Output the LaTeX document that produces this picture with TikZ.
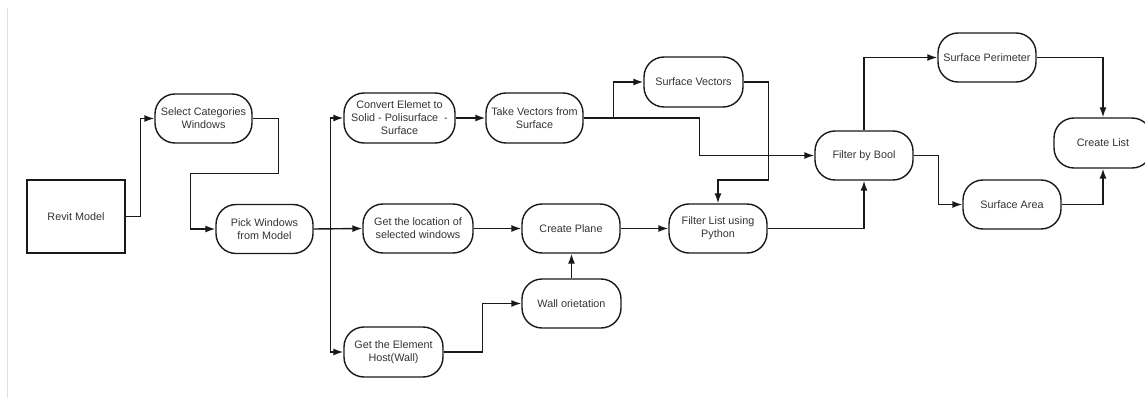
\documentclass[tikz,border=0pt]{standalone}
\usepackage{fontspec}
\setmainfont{Liberation Sans}
\usetikzlibrary{arrows.meta}
\begin{document}
\begin{tikzpicture}[x=1pt,y=-1pt,
  proc/.style={draw=black!90, line width=1.4pt, rounded corners=20pt, align=center,
    minimum width=98pt, minimum height=49pt, inner sep=0pt, text=black!80,
    font=\fontsize{10.8}{13}\selectfont},
  boxnode/.style={draw=black!90, line width=1.4pt, align=center,
    minimum width=98pt, minimum height=73pt, inner sep=0pt, text=black!80,
    font=\fontsize{10.8}{13}\selectfont},
  arr/.style={draw=black!90, line width=1.4pt, -{Latex[length=10pt,width=7pt]}},
  ln/.style={draw=black!90, line width=1.4pt}]
\useasboundingbox (0,0) rectangle (1145,398);
\draw[black!12, line width=1pt] (7,8) -- (7,398);

\node[boxnode] (revit) at (76,216.5) {Revit Model};
\node[proc, minimum width=97pt] (sel) at (203.5,118.5) {Select Categories\\Windows};
\node[proc, minimum width=97pt] (pick) at (264.5,229) {Pick Windows\\from Model};
\node[proc, minimum width=111pt, minimum height=50pt] (conv) at (399.5,118) {Convert Elemet to\\Solid - Polisurface\ \ -\\Surface};
\node[proc, minimum width=97pt, minimum height=50pt] (take) at (534.5,118) {Take Vectors from\\Surface};
\node[proc, minimum width=110pt] (loc) at (418,228.5) {Get the location of\\selected windows};
\node[proc] (cp) at (571,228.5) {Create Plane};
\node[proc, minimum width=99pt] (wall) at (571.5,303.5) {Wall orietation};
\node[proc, minimum width=99pt, minimum height=50pt] (host) at (393.5,352) {Get the Element\\Host(Wall)};
\node[proc, minimum width=99pt, minimum height=50pt] (sv) at (693.5,82) {Surface Vectors};
\node[proc] (fl) at (718,228.5) {Filter List using\\Python};
\node[proc] (fbb) at (864,155.5) {Filter by Bool};
\node[proc] (sp) at (987,57.5) {Surface Perimeter};
\node[proc] (sa) at (1012,204.5) {Surface Area};
\node[proc, minimum height=50pt] (cl) at (1103,143) {Create List};

\draw[arr] (revit.east) -- ++(15,0) |- (sel.west);
\draw[arr] (sel.east) -- ++(26,0) -- ++(0,55) -| ([xshift=-25pt]pick.west) -- (pick.west);
\coordinate (bus) at ([xshift=17pt]pick.east);
\draw[arr] (pick.east) -- (loc.west);
\draw[arr] (bus) |- (conv.west);
\draw[arr] (bus) |- (host.west);
\draw[arr] (conv.east) -- (take.east -| take.west);
\draw[arr] (take.east) -- ++(30,0) |- (sv.west);
\draw[arr] (take.east) -- ++(116,0) |- (fbb.west);
\draw[arr] (sv.east) -- ++(25,0) -- ++(0,98) -| (fl.north);
\draw[arr] (loc.east) -- (cp.west);
\draw[arr] (wall.north) -- (wall.north |- cp.south);
\draw[arr] (host.east) -- ++(39,0) |- (wall.west);
\draw[arr] (cp.east) -- (fl.west);
\draw[arr] (fl.east) -| (fbb.south);
\draw[arr] (fbb.north) |- (sp.west);
\draw[arr] (fbb.east) -- ++(25,0) |- (sa.west);
\draw[arr] (sp.east) -| (cl.north);
\draw[arr] (sa.east) -| (cl.south);
\end{tikzpicture}
\end{document}
